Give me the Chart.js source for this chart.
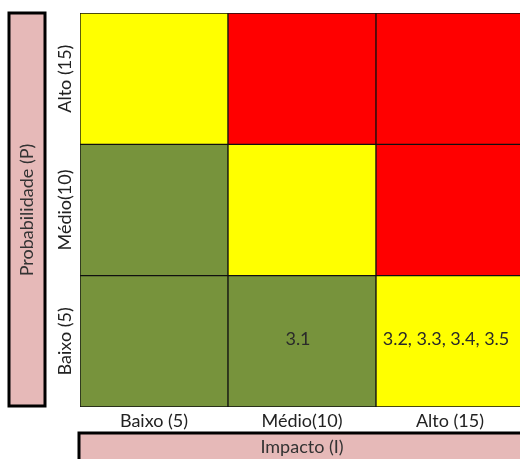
<!DOCTYPE html>
<html>
<head>
<meta charset="utf-8">
<script src="https://cdn.jsdelivr.net/npm/chart.js@4"></script>
<style>
  html, body { margin: 0; padding: 0; background: #fff; overflow: hidden; }
  #wrap { position: relative; width: 524px; height: 459px; }
</style>
</head>
<body>
<div id="wrap"><canvas id="c"></canvas></div>
<script>
// ---- data ----
const impactLabels = ['Baixo (5)', 'Médio(10)', 'Alto (15)'];        // x, left -> right
const probabilityLabels = ['Baixo (5)', 'Médio(10)', 'Alto (15)'];   // y, bottom -> top
const riskLevels = [                                                  // rows bottom -> top
  ['baixo', 'baixo', 'medio'],
  ['baixo', 'medio', 'alto'],
  ['medio', 'alto', 'alto']
];
const cellItems = [
  ['', '3.1', '3.2, 3.3, 3.4, 3.5'],
  ['', '', ''],
  ['', '', '']
];
const xTitle = 'Impacto (I)';
const yTitle = 'Probabilidade (P)';

// ---- styles ----
const riskColors = { baixo: '#77933C', medio: '#FFFF00', alto: '#FF0000' };
const FONT_FAMILY = 'Lato, "Open Sans", sans-serif';
const FONT_SIZE = 18;
const boxFill = '#E6B9B8';

function measure(txt) {
  const c = document.createElement('canvas').getContext('2d');
  c.font = FONT_SIZE + 'px ' + FONT_FAMILY;
  return c.measureText(txt).width;
}
const widestY = Math.max(...probabilityLabels.map(measure));

const datasets = probabilityLabels.map((p, r) => ({
  label: p,
  data: impactLabels.map(() => [r, r + 1]),
  backgroundColor: riskLevels[r].map(k => riskColors[k]),
  borderColor: '#111',
  borderWidth: 1,
  borderSkipped: false,
  categoryPercentage: 1,
  barPercentage: 1,
  grouped: false
}));

const boxesPlugin = {
  id: 'titleBoxes',
  beforeDraw(chart) {
    const { ctx, chartArea } = chart;
    ctx.save();
    ctx.fillStyle = boxFill;
    ctx.strokeStyle = '#000';
    ctx.lineWidth = 3;
    // y title box
    ctx.fillRect(9, chartArea.top, 36, chartArea.bottom - chartArea.top - 1);
    ctx.strokeRect(9, chartArea.top, 36, chartArea.bottom - chartArea.top - 1);
    // x title box
    const top = chartArea.bottom + 26;
    ctx.fillRect(chartArea.left - 1, top, chart.width + 10, 40);
    ctx.strokeRect(chartArea.left - 1, top, chart.width + 10, 40);
    ctx.restore();
  }
};

const cellLabelPlugin = {
  id: 'cellLabels',
  afterDatasetsDraw(chart) {
    const { ctx } = chart;
    ctx.save();
    ctx.font = FONT_SIZE + 'px ' + FONT_FAMILY;
    ctx.fillStyle = '#2a2a2a';
    ctx.textAlign = 'center';
    ctx.textBaseline = 'middle';
    chart.data.datasets.forEach((ds, r) => {
      const meta = chart.getDatasetMeta(r);
      meta.data.forEach((bar, c) => {
        const t = cellItems[r][c];
        if (!t) return;
        ctx.fillText(t, bar.x - 4, (bar.y + bar.base) / 2 - 2);
      });
    });
    ctx.restore();
  }
};

new Chart(document.getElementById('c'), {
  type: 'bar',
  data: { labels: impactLabels, datasets },
  plugins: [boxesPlugin, cellLabelPlugin],
  options: {
    responsive: true,
    maintainAspectRatio: false,
    animation: false,
    layout: { padding: { top: 13, left: 0, right: 0, bottom: 0 } },
    plugins: { legend: { display: false }, tooltip: { enabled: false } },
    font: { family: FONT_FAMILY, size: FONT_SIZE },
    scales: {
      x: {
        grid: { display: false, drawTicks: false },
        border: { display: false },
        ticks: { color: '#222', padding: 3, font: { size: FONT_SIZE } },
        title: {
          display: true, text: xTitle, color: '#333',
          font: { size: FONT_SIZE, lineHeight: 1.2 },
          padding: { top: 0, bottom: 1 }
        },
        afterFit(s) { s.height = 52; }
      },
      y: {
        min: 0, max: 3,
        grid: { display: false, drawTicks: false },
        border: { display: false },
        afterBuildTicks(s) {
          s.ticks = probabilityLabels.map((_, i) => ({ value: i + 0.5 }));
        },
        ticks: {
          autoSkip: false,
          minRotation: 90, maxRotation: 90,
          crossAlign: 'center',
          padding: 15 - widestY / 2,
          color: '#222',
          font: { size: FONT_SIZE },
          callback: (v) => probabilityLabels[Math.floor(v)]
        },
        title: {
          display: true, text: yTitle, color: '#333',
          font: { size: FONT_SIZE, lineHeight: 1.2 },
          padding: { top: 16, bottom: 0 }
        },
        afterFit(s) { s.width = 80; }
      }
    }
  }
});
</script>
</body>
</html>
